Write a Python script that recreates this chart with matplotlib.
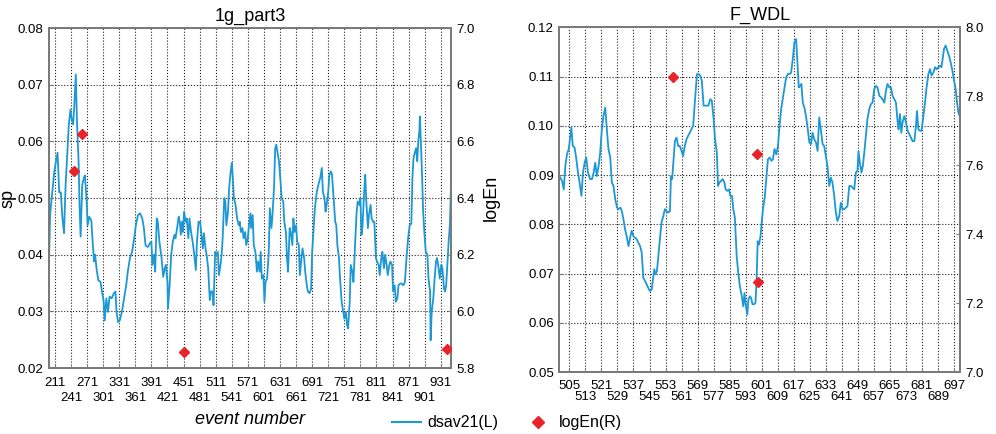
import matplotlib
matplotlib.use("Agg")
import matplotlib.pyplot as plt

plt.rcParams["font.family"] = ["Liberation Sans", "DejaVu Sans"]

# ---- 1g_part3 ----
left_events = [
    200, 202, 205, 210, 213, 216, 219, 222, 225, 228, 231, 235, 237, 240, 242, 245, 247, 250, 252, 255,
    257, 259, 262, 265, 267, 270, 272, 275, 279, 281, 284, 286, 289, 292, 296, 299, 302, 304, 307, 310,
    313, 317, 321, 324, 326, 329, 332, 336, 340, 344, 347, 351, 355, 359, 362, 366, 370, 374, 377, 380,
    383, 385, 388, 391, 393, 396, 398, 401, 403, 406, 410, 413, 416, 418, 421, 422, 425, 428, 431, 434,
    436, 439, 442, 444, 446, 448, 450, 452, 455, 457, 460, 462, 465, 468, 471, 474, 476, 479, 482, 485,
    487, 489, 492, 494, 497, 500, 502, 505, 507, 510, 512, 515, 517, 520, 522, 524, 527, 529, 531, 534,
    536, 539, 541, 543, 545, 548, 551, 554, 556, 558, 561, 563, 566, 568, 571, 573, 576, 577, 580, 582,
    585, 588, 590, 593, 595, 597, 600, 602, 604, 607, 610, 612, 615, 617, 620, 622, 624, 627, 629, 632,
    634, 637, 639, 642, 644, 646, 649, 651, 654, 656, 658, 661, 663, 666, 668, 671, 673, 676, 678, 681,
    683, 686, 689, 691, 694, 696, 699, 701, 704, 706, 709, 711, 714, 716, 718, 721, 723, 726, 728, 731,
    734, 736, 738, 741, 743, 746, 748, 751, 754, 756, 758, 761, 763, 766, 768, 771, 774, 776, 779, 781,
    783, 785, 788, 790, 792, 795, 797, 800, 802, 805, 807, 810, 812, 815, 817, 820, 822, 825, 827, 830,
    832, 835, 837, 840, 842, 845, 847, 850, 852, 855, 858, 861, 864, 867, 870, 873, 876, 878, 880, 883,
    885, 887, 889, 891, 892, 894, 896, 898, 901, 903, 906, 908, 911, 912, 914, 917, 919, 922, 924, 927,
    929, 932, 934, 937, 939, 941, 944, 946, 948, 950,
]
left_sp = [
    0.0385, 0.0470, 0.0500, 0.0547, 0.0565, 0.0580, 0.0510, 0.0510, 0.0465, 0.0438, 0.0523, 0.0594, 0.0630, 0.0656, 0.0641, 0.0630, 0.0660, 0.0718, 0.0640, 0.0570,
    0.0488, 0.0432, 0.0523, 0.0535, 0.0540, 0.0500, 0.0452, 0.0467, 0.0460, 0.0429, 0.0388, 0.0400, 0.0373, 0.0355, 0.0352, 0.0335, 0.0317, 0.0284, 0.0323, 0.0299,
    0.0326, 0.0323, 0.0332, 0.0335, 0.0299, 0.0281, 0.0284, 0.0299, 0.0323, 0.0346, 0.0370, 0.0394, 0.0405, 0.0429, 0.0452, 0.0470, 0.0473, 0.0464, 0.0447, 0.0417,
    0.0414, 0.0414, 0.0420, 0.0423, 0.0382, 0.0400, 0.0370, 0.0464, 0.0458, 0.0423, 0.0394, 0.0361, 0.0376, 0.0382, 0.0352, 0.0305, 0.0346, 0.0400, 0.0423, 0.0435,
    0.0429, 0.0447, 0.0467, 0.0458, 0.0435, 0.0458, 0.0440, 0.0476, 0.0458, 0.0464, 0.0429, 0.0464, 0.0440, 0.0423, 0.0400, 0.0373, 0.0423, 0.0458, 0.0458, 0.0429,
    0.0411, 0.0438, 0.0411, 0.0400, 0.0376, 0.0320, 0.0335, 0.0335, 0.0311, 0.0405, 0.0400, 0.0405, 0.0364, 0.0382, 0.0400, 0.0429, 0.0500, 0.0494, 0.0452, 0.0476,
    0.0517, 0.0547, 0.0562, 0.0535, 0.0500, 0.0488, 0.0464, 0.0452, 0.0458, 0.0440, 0.0447, 0.0429, 0.0440, 0.0417, 0.0429, 0.0452, 0.0473, 0.0447, 0.0470, 0.0417,
    0.0405, 0.0370, 0.0388, 0.0370, 0.0405, 0.0358, 0.0364, 0.0317, 0.0352, 0.0358, 0.0405, 0.0482, 0.0447, 0.0470, 0.0523, 0.0588, 0.0594, 0.0576, 0.0565, 0.0529,
    0.0500, 0.0494, 0.0458, 0.0440, 0.0394, 0.0370, 0.0447, 0.0440, 0.0417, 0.0464, 0.0440, 0.0452, 0.0423, 0.0417, 0.0364, 0.0394, 0.0411, 0.0394, 0.0370, 0.0346,
    0.0335, 0.0332, 0.0340, 0.0405, 0.0452, 0.0482, 0.0506, 0.0517, 0.0529, 0.0535, 0.0553, 0.0511, 0.0500, 0.0476, 0.0488, 0.0511, 0.0541, 0.0547, 0.0541, 0.0500,
    0.0458, 0.0452, 0.0417, 0.0394, 0.0358, 0.0317, 0.0305, 0.0287, 0.0299, 0.0276, 0.0270, 0.0317, 0.0382, 0.0370, 0.0352, 0.0417, 0.0476, 0.0494, 0.0488, 0.0500,
    0.0435, 0.0452, 0.0511, 0.0541, 0.0494, 0.0447, 0.0470, 0.0488, 0.0464, 0.0458, 0.0458, 0.0394, 0.0388, 0.0382, 0.0364, 0.0394, 0.0405, 0.0376, 0.0400, 0.0382,
    0.0364, 0.0382, 0.0388, 0.0382, 0.0335, 0.0346, 0.0317, 0.0323, 0.0346, 0.0349, 0.0349, 0.0346, 0.0352, 0.0394, 0.0429, 0.0452, 0.0455, 0.0535, 0.0570, 0.0582,
    0.0588, 0.0565, 0.0600, 0.0618, 0.0644, 0.0594, 0.0541, 0.0476, 0.0429, 0.0405, 0.0400, 0.0358, 0.0335, 0.0249, 0.0299, 0.0323, 0.0352, 0.0388, 0.0394, 0.0376,
    0.0358, 0.0382, 0.0376, 0.0340, 0.0335, 0.0346, 0.0394, 0.0429, 0.0452, 0.0523,
]
left_en_events = [247, 261, 452, 942]
left_logen = [6.494, 6.626, 5.856, 5.868]
left_ticks_top = [211, 271, 331, 391, 451, 511, 571, 631, 691, 751, 811, 871, 931]
left_ticks_bottom = [241, 301, 361, 421, 481, 541, 601, 661, 721, 781, 841, 901]

# ---- F_WDL ----
right_events = [
    500.0, 501.4, 502.2, 503.0, 503.8, 504.7, 505.3, 506.0, 506.7, 507.6, 508.5, 509.3, 510.1, 511.0, 511.8, 512.6, 513.4, 514.3, 515.3, 516.3,
    517.1, 517.9, 518.7, 519.6, 520.4, 521.2, 522.0, 522.9, 523.7, 524.5, 525.4, 526.2, 527.0, 527.9, 528.8, 529.5, 530.5, 531.2, 532.0, 532.8,
    533.6, 534.5, 535.3, 536.1, 537.0, 537.8, 538.6, 539.4, 540.3, 541.1, 541.9, 542.8, 543.6, 544.4, 545.2, 546.1, 546.7, 547.4, 548.0, 548.7,
    549.4, 550.2, 551.0, 551.9, 552.7, 553.5, 554.3, 555.2, 555.7, 556.3, 557.0, 557.7, 558.5, 559.3, 560.1, 561.0, 561.8, 562.6, 563.5, 564.3,
    565.1, 565.9, 566.8, 567.6, 568.7, 569.5, 570.3, 571.1, 572.0, 572.8, 573.6, 574.4, 575.3, 576.1, 577.0, 577.7, 578.6, 579.2, 579.9, 580.7,
    581.5, 582.4, 583.0, 583.9, 584.7, 585.3, 586.2, 586.8, 587.6, 588.5, 589.3, 590.1, 590.9, 591.8, 592.4, 593.1, 593.8, 594.4, 595.1, 595.7,
    596.4, 597.2, 597.9, 598.4, 599.0, 599.7, 600.4, 601.0, 601.7, 602.5, 603.3, 604.1, 605.0, 605.8, 606.6, 607.4, 608.3, 609.1, 609.9, 610.7,
    611.6, 612.4, 613.2, 614.0, 614.9, 615.7, 616.5, 617.3, 618.2, 618.8, 619.5, 620.2, 620.8, 621.5, 622.3, 623.1, 624.0, 624.8, 625.6, 626.4,
    627.2, 628.1, 628.9, 629.7, 630.5, 631.4, 632.2, 633.0, 633.8, 634.7, 635.5, 636.3, 637.2, 638.0, 638.8, 639.7, 640.5, 641.3, 642.2, 643.0,
    643.8, 644.7, 645.5, 646.3, 647.2, 648.0, 648.8, 649.3, 650.0, 650.8, 651.5, 652.2, 653.0, 653.8, 654.7, 655.5, 656.3, 657.2, 658.0, 658.8,
    659.7, 660.5, 661.3, 662.2, 663.0, 663.8, 664.7, 665.5, 666.3, 667.2, 668.0, 668.8, 669.3, 670.0, 670.7, 671.3, 672.2, 673.0, 673.8, 674.7,
    675.5, 676.3, 677.2, 678.0, 678.5, 679.2, 680.0, 680.8, 681.7, 682.5, 683.3, 684.2, 685.0, 685.8, 686.7, 687.5, 688.3, 689.2, 690.0, 690.7,
    691.3, 692.0, 692.8, 693.7, 694.5, 695.3, 696.2, 697.0, 697.8, 698.5, 699.2, 699.8,
]
right_sp = [
    0.0898, 0.0888, 0.0871, 0.0919, 0.0942, 0.0953, 0.0973, 0.0997, 0.0959, 0.0956, 0.0932, 0.0905, 0.0885, 0.0858, 0.0905, 0.0925, 0.0936, 0.0905, 0.0892, 0.0892,
    0.0905, 0.0925, 0.0898, 0.0919, 0.0946, 0.0993, 0.1020, 0.1037, 0.0993, 0.0953, 0.0936, 0.0885, 0.0878, 0.0851, 0.0834, 0.0831, 0.0834, 0.0827, 0.0810, 0.0790,
    0.0776, 0.0756, 0.0773, 0.0787, 0.0776, 0.0773, 0.0770, 0.0763, 0.0756, 0.0743, 0.0692, 0.0685, 0.0678, 0.0671, 0.0665, 0.0668, 0.0688, 0.0709, 0.0699, 0.0705,
    0.0736, 0.0770, 0.0804, 0.0817, 0.0831, 0.0827, 0.0824, 0.0827, 0.0898, 0.0892, 0.0932, 0.0970, 0.0976, 0.0959, 0.0959, 0.0949, 0.0939, 0.0959, 0.0973, 0.0980,
    0.0986, 0.0993, 0.1000, 0.1047, 0.1105, 0.1105, 0.1102, 0.1092, 0.1041, 0.1041, 0.1041, 0.1041, 0.1054, 0.1051, 0.1014, 0.0973, 0.0946, 0.0878, 0.0885, 0.0888,
    0.0892, 0.0885, 0.0871, 0.0868, 0.0871, 0.0858, 0.0858, 0.0831, 0.0814, 0.0736, 0.0702, 0.0675, 0.0658, 0.0634, 0.0661, 0.0634, 0.0617, 0.0648, 0.0654, 0.0651,
    0.0638, 0.0638, 0.0641, 0.0682, 0.0766, 0.0759, 0.0776, 0.0804, 0.0834, 0.0854, 0.0892, 0.0932, 0.0936, 0.0929, 0.0932, 0.0953, 0.0942, 0.0959, 0.1000, 0.1034,
    0.1058, 0.1078, 0.1098, 0.1105, 0.1105, 0.1108, 0.1135, 0.1169, 0.1176, 0.1129, 0.1078, 0.1081, 0.1085, 0.1047, 0.1037, 0.1020, 0.0993, 0.0966, 0.0963, 0.0986,
    0.0973, 0.0966, 0.0949, 0.1017, 0.0993, 0.0963, 0.0959, 0.0939, 0.0919, 0.0878, 0.0895, 0.0885, 0.0858, 0.0824, 0.0807, 0.0817, 0.0844, 0.0831, 0.0831, 0.0834,
    0.0837, 0.0878, 0.0878, 0.0875, 0.0871, 0.0905, 0.0909, 0.0949, 0.0925, 0.0905, 0.0919, 0.0946, 0.0980, 0.1014, 0.1034, 0.1044, 0.1047, 0.1075, 0.1081, 0.1078,
    0.1061, 0.1058, 0.1054, 0.1047, 0.1071, 0.1085, 0.1078, 0.1078, 0.1061, 0.1054, 0.1047, 0.1010, 0.0993, 0.1024, 0.0986, 0.1007, 0.1020, 0.1007, 0.0990, 0.0983,
    0.0976, 0.0969, 0.0969, 0.1000, 0.1030, 0.0993, 0.0990, 0.0990, 0.1020, 0.1047, 0.1078, 0.1105, 0.1115, 0.1102, 0.1108, 0.1119, 0.1115, 0.1119, 0.1122, 0.1119,
    0.1135, 0.1156, 0.1163, 0.1152, 0.1142, 0.1129, 0.1112, 0.1092, 0.1075, 0.1047, 0.1027, 0.1020,
]
right_en_events = [556.9, 598.5, 599.4]
right_logen = [7.857, 7.633, 7.261]
right_ticks_top = [505, 521, 537, 553, 569, 585, 601, 617, 633, 649, 665, 681, 697]
right_ticks_bottom = [513, 529, 545, 561, 577, 593, 609, 625, 641, 657, 673, 689]

LINE_COLOR = "#1b98d5"
MARK_COLOR = "#e8232a"
SPINE_COLOR = "#7a7a7a"


def draw_panel(fig, rect, events, sp, en_events, logen, title, xlim, ylim_l, yticks_l, ylim_r, yticks_r,
               ticks_top, ticks_bottom, pad_top, pad_bottom):
    ax = fig.add_axes(rect)
    ax.plot(events, sp, color=LINE_COLOR, lw=1.3, zorder=3)
    ax.set_xlim(*xlim)
    ax.set_ylim(*ylim_l)
    ax.set_yticks(yticks_l)
    ax.set_yticklabels([f"{v:.2f}" for v in yticks_l])
    ax.set_xticks(ticks_top)
    ax.set_xticklabels([str(t) for t in ticks_top])
    ax.set_xticks(ticks_bottom, minor=True)
    ax.set_xticklabels([str(t) for t in ticks_bottom], minor=True)
    ax.tick_params(axis="x", which="major", pad=pad_top, labelsize=9.5, direction="in", length=3, color=SPINE_COLOR)
    ax.tick_params(axis="x", which="minor", pad=pad_bottom, labelsize=9.5, direction="in", length=3, color=SPINE_COLOR)
    ax.tick_params(axis="y", labelsize=9.5, direction="in", length=3, color=SPINE_COLOR, pad=4)
    ax.grid(True, which="both", axis="x", color="#222222", linestyle=":", lw=0.8)
    ax.grid(True, which="major", axis="y", color="#222222", linestyle=":", lw=0.8)
    ax.set_title(title, fontsize=13, pad=5)

    ax2 = ax.twinx()
    ax2.plot(en_events, logen, linestyle="none", marker="D", markersize=5.5, color=MARK_COLOR, zorder=4)
    ax2.set_ylim(*ylim_r)
    ax2.set_yticks(yticks_r)
    ax2.set_yticklabels([f"{v:.1f}" for v in yticks_r])
    ax2.tick_params(axis="y", labelsize=9.5, direction="in", length=3, color=SPINE_COLOR, pad=4)

    for a in (ax, ax2):
        for s in a.spines.values():
            s.set_color(SPINE_COLOR)
            s.set_linewidth(1.4)
    return ax, ax2


def main():
    fig = plt.figure(figsize=(9.96, 4.34), dpi=100)

    ax, ax2 = draw_panel(
        fig, [0.0492, 0.152, 0.4036, 0.7834], left_events, left_sp, left_en_events, left_logen, "1g_part3",
        (200, 950), (0.02, 0.08), [0.02, 0.03, 0.04, 0.05, 0.06, 0.07, 0.08],
        (5.8, 7.0), [5.8, 6.0, 6.2, 6.4, 6.6, 6.8, 7.0],
        left_ticks_top, left_ticks_bottom, 6.5, 17.5,
    )
    ax.set_ylabel("sp", fontsize=13)
    ax.yaxis.set_label_coords(-0.082, 0.5)
    ax2.set_ylabel("logEn", fontsize=13)
    ax2.yaxis.set_label_coords(1.078, 0.5)
    ax.set_xlabel("event number", fontsize=13, style="italic")
    ax.xaxis.set_label_coords(0.5, -0.125)

    draw_panel(
        fig, [0.5616, 0.1422, 0.4023, 0.795], right_events, right_sp, right_en_events, right_logen, "F_WDL",
        (500, 700), (0.05, 0.12), [0.05, 0.06, 0.07, 0.08, 0.09, 0.10, 0.11, 0.12],
        (7.0, 8.0), [7.0, 7.2, 7.4, 7.6, 7.8, 8.0],
        right_ticks_top, right_ticks_bottom, 5.7, 13.2,
    )

    h1, = plt.plot([], [], color=LINE_COLOR, lw=1.5, label="dsav21(L)")
    h2, = plt.plot([], [], linestyle="none", marker="D", markersize=6, color=MARK_COLOR, label="logEn(R)")
    fig.legend(handles=[h1, h2], loc="center", bbox_to_anchor=(0.509, 0.026), ncol=2, frameon=False,
               fontsize=11.5, handlelength=1.8, handletextpad=0.4, columnspacing=1.6)

    fig.savefig("out.png", dpi=100)


if __name__ == "__main__":
    main()
